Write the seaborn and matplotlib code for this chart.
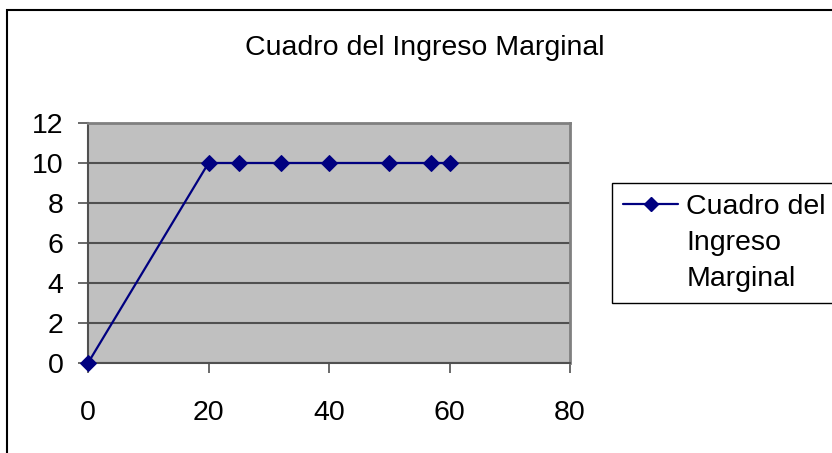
import matplotlib
matplotlib.use("Agg")
import matplotlib.pyplot as plt
import seaborn as sns
import pandas as pd
from matplotlib.lines import Line2D
from matplotlib.patches import Rectangle

# Data
cantidad = [0, 20, 25, 32, 40, 50, 57, 60]
ingreso_marginal = [0, 10, 10, 10, 10, 10, 10, 10]
x_ticks = [0, 20, 40, 60, 80]
y_ticks = [0, 2, 4, 6, 8, 10, 12]
titulo = "Cuadro del Ingreso Marginal"
leyenda = ["Cuadro del", "Ingreso", "Marginal"]

NAVY = "#000080"
FS = 20.5

sns.set_style("white")
plt.rcParams["font.family"] = ["Liberation Sans", "DejaVu Sans"]
plt.rcParams["text.color"] = "black"
plt.rcParams["xtick.labelcolor"] = "black"
plt.rcParams["ytick.labelcolor"] = "black"

df = pd.DataFrame({"x": cantidad, "y": ingreso_marginal})

fig = plt.figure(figsize=(8.32, 4.53), dpi=100)
W, H = 832, 453
ax = fig.add_axes([88 / W, 1 - 363 / H, (570 - 88) / W, (363 - 123) / H])

sns.lineplot(data=df, x="x", y="y", ax=ax, color=NAVY, linewidth=1.6,
             marker="D", markersize=8.5, markeredgecolor=NAVY,
             markerfacecolor=NAVY, sort=False, clip_on=False, zorder=5)

ax.set_facecolor("#C0C0C0")
ax.set_xlim(0, 80)
ax.set_ylim(0, 12)
ax.set_xticks(x_ticks)
ax.set_yticks(y_ticks)
ax.set_xlabel("")
ax.set_ylabel("")
ax.yaxis.grid(True, color="#505050", linewidth=1.5)
ax.xaxis.grid(False)
ax.set_axisbelow(True)

for side in ["left", "bottom"]:
    ax.spines[side].set_color("#505050")
    ax.spines[side].set_linewidth(1.5)
for side in ["top", "right"]:
    ax.spines[side].set_color("#808080")
    ax.spines[side].set_linewidth(2)

ax.tick_params(axis="both", direction="out", length=7.5, width=1.2,
               color="#505050", labelsize=FS, labelcolor="black")
ax.tick_params(axis="y", pad=10)
ax.tick_params(axis="x", pad=19)
ax.tick_params(left=True, bottom=True)

# Title
fig.text(425 / W, 1 - 55 / H, titulo, ha="center", va="baseline",
         fontsize=FS, color="black")

# Legend: handle on the first line only, like Excel
handles = [Line2D([], [], color=NAVY, linewidth=1.6, marker="D",
                  markersize=7, markerfacecolor=NAVY, markeredgecolor=NAVY),
           Line2D([], [], linestyle="none"),
           Line2D([], [], linestyle="none")]
leg = fig.legend(handles=handles, labels=leyenda, loc="upper left",
                 bbox_to_anchor=(612 / W, 1 - 183 / H),
                 bbox_transform=fig.transFigure, borderaxespad=0,
                 fontsize=FS, frameon=True, fancybox=False, shadow=False,
                 handlelength=1.95, handletextpad=0.28, borderpad=0.38,
                 labelspacing=0.36, framealpha=1, labelcolor="black")
leg.get_frame().set_edgecolor("black")
leg.get_frame().set_linewidth(1.0)

# Outer chart border
fig.add_artist(Rectangle((7 / W, -0.1), 1.0, 1 - 10 / H + 0.1,
                         transform=fig.transFigure, fill=False,
                         edgecolor="black", linewidth=1.5))

fig.savefig("out.png", dpi=100)
